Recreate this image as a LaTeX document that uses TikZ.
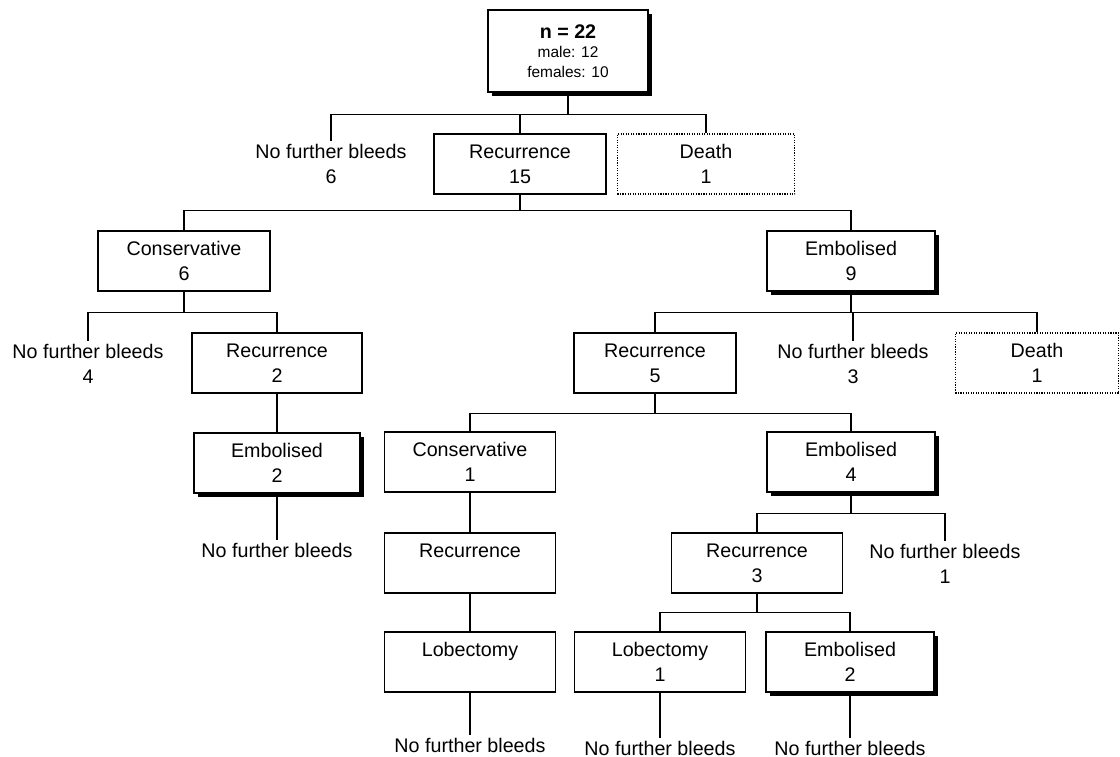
\documentclass[tikz,border=0pt]{standalone}
\usepackage{fontspec}
\setmainfont{Liberation Sans}
\usetikzlibrary{shadows}

\begin{document}
\begin{tikzpicture}[x=0.025cm, y=-0.025cm,
    box/.style={draw, fill=white, line width=0.8pt, minimum width=4.3cm,
      minimum height=1.5cm, align=center, font=\fontsize{14}{18}\selectfont},
    heavy/.style={box, drop shadow={shadow xshift=0.09cm, shadow yshift=-0.09cm,
      fill=black, opacity=1}},
    fatal/.style={box, densely dotted, line width=0.9pt},
    outcome/.style={align=center, inner sep=2pt, font=\fontsize{14}{18}\selectfont},
    link/.style={line width=0.8pt}]
    \useasboundingbox (0,0) rectangle (1120,757);

    % first level
    \node[heavy, minimum width=4cm, minimum height=2.05cm,
      font=\fontsize{11}{14}\selectfont] (all) at (568,51)
      {{\fontsize{14}{16}\selectfont\textbf{n = 22}}\\male: 12\\females: 10};
    \node[outcome] (nfbA) at (331,164) {No further bleeds\\6};
    \node[box] (recA) at (520,164) {Recurrence\\15};
    \node[fatal, minimum width=4.43cm] (deathA) at (706,164) {Death\\1};

    % after first recurrence
    \node[box] (consA) at (184,261) {Conservative\\6};
    \node[heavy, minimum width=4.2cm] (embA) at (851,261) {Embolised\\9};

    % conservative branch
    \node[outcome] (nfbB) at (88,364) {No further bleeds\\4};
    \node[box, minimum width=4.25cm] (recB) at (277,363) {Recurrence\\2};
    \node[heavy, minimum width=4.15cm] (embB) at (277,463) {Embolised\\2};
    \node[outcome] (nfbC) at (277,550) {No further bleeds};

    % embolised branch
    \node[box, minimum width=4.05cm] (recC) at (655,363) {Recurrence\\5};
    \node[outcome] (nfbD) at (853,364) {No further bleeds\\3};
    \node[fatal, minimum width=4.08cm] (deathB) at (1037,363) {Death\\1};

    \node[box, minimum width=4.28cm] (consB) at (470,462) {Conservative\\1};
    \node[box, minimum width=4.28cm] (recD) at (470,563) {Recurrence\\~};
    \node[box, minimum width=4.28cm] (lobA) at (470,662) {Lobectomy\\~};
    \node[outcome] (nfbE) at (470,745) {No further bleeds};

    \node[heavy, minimum width=4.2cm] (embC) at (851,462) {Embolised\\4};
    \node[box, minimum width=4.28cm] (recE) at (757,563) {Recurrence\\3};
    \node[outcome] (nfbF) at (945,564) {No further bleeds\\1};
    \node[box, minimum width=4.28cm] (lobB) at (660,662) {Lobectomy\\1};
    \node[heavy, minimum width=4.2cm] (embD) at (850,662) {Embolised\\2};
    \node[outcome] (nfbG) at (660,748) {No further bleeds};
    \node[outcome] (nfbH) at (850,748) {No further bleeds};

    % connectors
    \foreach \kid in {nfbA,recA,deathA}
      \draw[link] (all.south) -- ++(0,22) -| (\kid.north);
    \foreach \kid in {consA,embA}
      \draw[link] (recA.south) -- ++(0,16) -| (\kid.north);
    \foreach \kid in {nfbB,recB}
      \draw[link] (consA.south) -- ++(0,21) -| (\kid.north);
    \foreach \kid in {recC,nfbD,deathB}
      \draw[link] (embA.south) -- ++(0,21) -| (\kid.north);
    \foreach \kid in {consB,embC}
      \draw[link] (recC.south) -- ++(0,20) -| (\kid.north);
    \foreach \kid in {recE,nfbF}
      \draw[link] (embC.south) -- ++(0,21) -| (\kid.north);
    \foreach \kid in {lobB,embD}
      \draw[link] (recE.south) -- ++(0,19) -| (\kid.north);
    \draw[link] (recB) -- (embB);
    \draw[link] (embB) -- (nfbC);
    \draw[link] (consB) -- (recD);
    \draw[link] (recD) -- (lobA);
    \draw[link] (lobA) -- (nfbE);
    \draw[link] (lobB) -- (nfbG);
    \draw[link] (embD) -- (nfbH);
\end{tikzpicture}
\end{document}
